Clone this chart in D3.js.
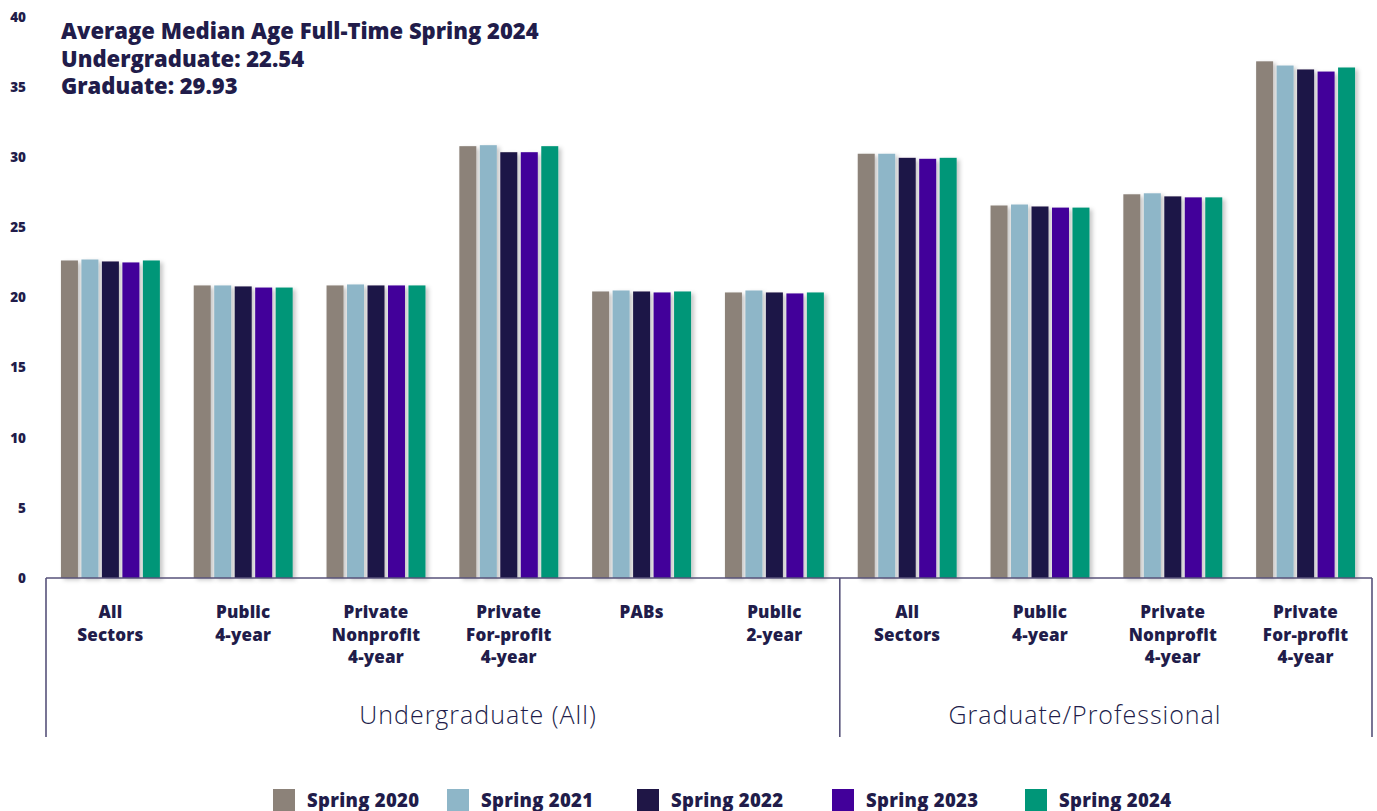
<!DOCTYPE html>
<html>
<head>
<meta charset="utf-8">
<script src="https://cdn.jsdelivr.net/npm/d3@7"></script>
<style>
  html, body { margin: 0; padding: 0; background: #ffffff; }
  svg { display: block; font-family: "Open Sans", "Noto Sans", sans-serif; }
</style>
</head>
<body>
<svg id="chart" width="1377" height="811"></svg>
<script>
// ---- data ----
const categories = [
  ["All", "Sectors"],
  ["Public", "4-year"],
  ["Private", "Nonprofit", "4-year"],
  ["Private", "For-profit", "4-year"],
  ["PABs"],
  ["Public", "2-year"],
  ["All", "Sectors"],
  ["Public", "4-year"],
  ["Private", "Nonprofit", "4-year"],
  ["Private", "For-profit", "4-year"]
];
const groups = ["Undergraduate (All)", "Graduate/Professional"];
const groupSizes = [6, 4];
const seriesNames = ["Spring 2020", "Spring 2021", "Spring 2022", "Spring 2023", "Spring 2024"];
const spring2020 = [22.64, 20.86, 20.86, 30.79, 20.43, 20.36, 30.25, 26.56, 27.36, 36.84];
const spring2021 = [22.71, 20.86, 20.93, 30.86, 20.50, 20.50, 30.25, 26.63, 27.43, 36.54];
const spring2022 = [22.57, 20.79, 20.86, 30.36, 20.43, 20.36, 29.96, 26.49, 27.21, 36.26];
const spring2023 = [22.50, 20.71, 20.86, 30.36, 20.36, 20.29, 29.89, 26.41, 27.14, 36.11];
const spring2024 = [22.64, 20.71, 20.86, 30.79, 20.43, 20.36, 29.96, 26.41, 27.14, 36.40];
const yTicks = [0, 5, 10, 15, 20, 25, 30, 35, 40];
const titleLines = [
  "Average Median Age Full-Time Spring 2024",
  "Undergraduate: 22.54",
  "Graduate: 29.93"
];

const seriesValues = [spring2020, spring2021, spring2022, spring2023, spring2024];
const colors = ["#8c8279", "#8eb6c8", "#1f1646", "#42009a", "#009678"];
const ink = "#211c4a";
const axisColor = "#57527a";

const svg = d3.select("#chart");

const defs = svg.append("defs");
const f = defs.append("filter").attr("id", "shadow")
  .attr("x", "-30%").attr("y", "-5%").attr("width", "180%").attr("height", "115%");
f.append("feDropShadow").attr("dx", 3).attr("dy", 2).attr("stdDeviation", 2)
  .attr("flood-color", "#000").attr("flood-opacity", 0.22);

const mLeft = 44, mRight = 1372, mTop = 17, mBottom = 578;

const x0 = d3.scaleBand().domain(d3.range(categories.length))
  .range([mLeft, mRight]).paddingInner(0.255).paddingOuter(0.1275);
const x1 = d3.scaleBand().domain(d3.range(seriesNames.length))
  .range([0, x0.bandwidth()]).paddingInner(0.17).paddingOuter(0);
const y = d3.scaleLinear().domain([0, 40]).range([mBottom, mTop]);

// y tick labels
const yAxis = d3.axisLeft(y).tickValues(yTicks).tickSize(0).tickPadding(0);
const yg = svg.append("g").attr("transform", `translate(26,0)`).call(yAxis);
yg.select(".domain").remove();
yg.selectAll("text")
  .attr("fill", ink).attr("font-size", 13.5).attr("font-weight", 800)
  .attr("font-family", "'Open Sans', sans-serif");

// bars
const gCat = svg.append("g").selectAll("g").data(categories).join("g")
  .attr("transform", (d, i) => `translate(${x0(i)},0)`);
gCat.selectAll("rect")
  .data((d, i) => seriesValues.map((s, k) => ({k, v: s[i]})))
  .join("rect")
  .attr("x", d => x1(d.k))
  .attr("width", x1.bandwidth())
  .attr("y", d => y(d.v))
  .attr("height", d => y(0) - y(d.v))
  .attr("fill", d => colors[d.k])
  .attr("filter", "url(#shadow)");

// x axis lines
const axisBottom = 737;
const ax = svg.append("g").attr("stroke", axisColor).attr("stroke-width", 1.6).attr("fill", "none");
ax.append("line").attr("x1", mLeft + 2).attr("x2", mRight).attr("y1", mBottom).attr("y2", mBottom);
let cum = 0;
const bounds = [0];
groupSizes.forEach(n => { cum += n; bounds.push(cum); });
bounds.forEach(b => {
  const xx = b === 0 ? mLeft + 2 : (b === categories.length ? mRight : x0(b) - x0.step() * x0.paddingInner() / 2 - 1);
  ax.append("line").attr("x1", xx).attr("x2", xx).attr("y1", mBottom).attr("y2", axisBottom);
});

// category labels
const catLab = svg.append("g").selectAll("text").data(categories).join("text")
  .attr("x", (d, i) => x0(i) + x0.bandwidth() / 2)
  .attr("y", 618)
  .attr("text-anchor", "middle")
  .attr("fill", ink).attr("font-size", 17).attr("font-weight", 800)
  .attr("letter-spacing", 0.2);
catLab.selectAll("tspan").data(d => d).join("tspan")
  .attr("x", function () { return this.parentNode.getAttribute("x"); })
  .attr("dy", (d, i) => i === 0 ? 0 : 22.5)
  .text(d => d);

// group labels
const groupX = [478, 1085];
svg.append("g").selectAll("text").data(groups).join("text")
  .attr("x", (d, i) => groupX[i]).attr("y", 724)
  .attr("text-anchor", "middle")
  .attr("fill", ink).attr("font-size", 25).attr("font-weight", 300)
  .attr("letter-spacing", 1)
  .text(d => d);

// title
svg.append("g").selectAll("text").data(titleLines).join("text")
  .attr("x", 61).attr("y", (d, i) => 39 + i * 27.5)
  .attr("fill", ink).attr("font-size", 22).attr("font-weight", 800)
  .text(d => d);

// legend
const legendX = [273, 447, 637, 832, 1025];
const lg = svg.append("g").selectAll("g").data(seriesNames).join("g")
  .attr("transform", (d, i) => `translate(${legendX[i]},789)`);
lg.append("rect").attr("width", 22).attr("height", 22).attr("fill", (d, i) => colors[i]);
lg.append("text").attr("x", 34).attr("y", 18)
  .attr("fill", ink).attr("font-size", 18.5).attr("font-weight", 800)
  .attr("letter-spacing", 0.3)
  .text(d => d);
</script>
</body>
</html>
